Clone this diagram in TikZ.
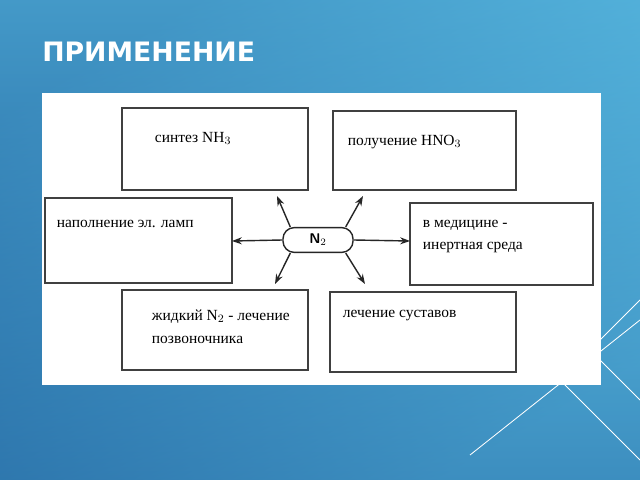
\documentclass[tikz,border=0pt]{standalone}
\usepackage{fontspec}
\setmainfont{Liberation Serif}
\newfontfamily\titlefont{DejaVu Sans}
\usetikzlibrary{calc,arrows.meta}
\definecolor{bgtop}{HTML}{66D0F2}
\definecolor{bgbot}{HTML}{1B5896}
\tikzset{
  lbl/.style={anchor=north west,font=\fontsize{11}{16}\selectfont,align=left},
  ray/.style={draw=black!85,line width=1pt,-{Stealth[length=7pt,width=5pt]}}
}
\begin{document}
\begin{tikzpicture}[x=0.025cm,y=-0.025cm]
  \useasboundingbox (0,0) rectangle (640,480);
  \shade[left color=bgbot,right color=bgtop,shading angle=30] (0,0) rectangle (640,480);
  \shade[top color=bgtop,bottom color=bgbot,opacity=0.55] (0,0) rectangle (640,480);
  % decorative lines
  \draw[white,line width=0.6pt] (640,300) -- (560,380) -- (640,460);
  \draw[white,line width=0.6pt] (640,320) -- (470,455);
  \draw[white,line width=0.6pt] (600,360) -- (640,400);
  \node[anchor=base west,text=white,font=\titlefont\bfseries\fontsize{19}{22}\selectfont,inner sep=0pt] (title) at (42,62) {ПРИМЕНЕНИЕ};
  % panel
  \fill[white] (42,93) rectangle (601,385);
  % boxes
  \draw[black!75,line width=0.8pt] (122,108) rectangle (308,190);
  \draw[black!75,line width=0.8pt] (333,111) rectangle (516,190);
  \draw[black!75,line width=0.8pt] (45,198) rectangle (232,283);
  \draw[black!75,line width=0.8pt] (410,203) rectangle (593,285);
  \draw[black!75,line width=0.8pt] (122,290) rectangle (308,370);
  \draw[black!75,line width=0.8pt] (330,292) rectangle (516,372);
  \node[lbl] (t1) at (150,127) {синтез NH$_3$};
  \node[lbl] (t2) at (343,130) {получение HNO$_3$};
  \node[lbl] (t3) at (52,215) {наполнение эл. ламп};
  \node[lbl] (t4) at (418,215) {в медицине -\\инертная среда};
  \node[lbl] (t5) at (147,305) {жидкий N$_2$ - лечение\\позвоночника};
  \node[lbl] (t6) at (338,305) {лечение суставов};
  % centre
  \node[draw=black!85,line width=1pt,rounded corners=8pt,
        minimum width=1.75cm,minimum height=0.62cm,font=\sffamily\bfseries] (n2) at (318,240) {N$_2$};
  \coordinate (a1) at (277,196);
  \coordinate (a2) at (363,196);
  \coordinate (a3) at (232,241);
  \coordinate (a4) at (410,241);
  \coordinate (a5) at (275,284);
  \coordinate (a6) at (365,284);
  \draw[ray] ($(n2.north west)+(8,0)$) -- (a1);
  \draw[ray] ($(n2.north east)+(-8,0)$) -- (a2);
  \draw[ray] (n2.west) -- (a3);
  \draw[ray] (n2.east) -- (a4);
  \draw[ray] ($(n2.south west)+(8,0)$) -- (a5);
  \draw[ray] ($(n2.south east)+(-8,0)$) -- (a6);
\end{tikzpicture}
\end{document}
